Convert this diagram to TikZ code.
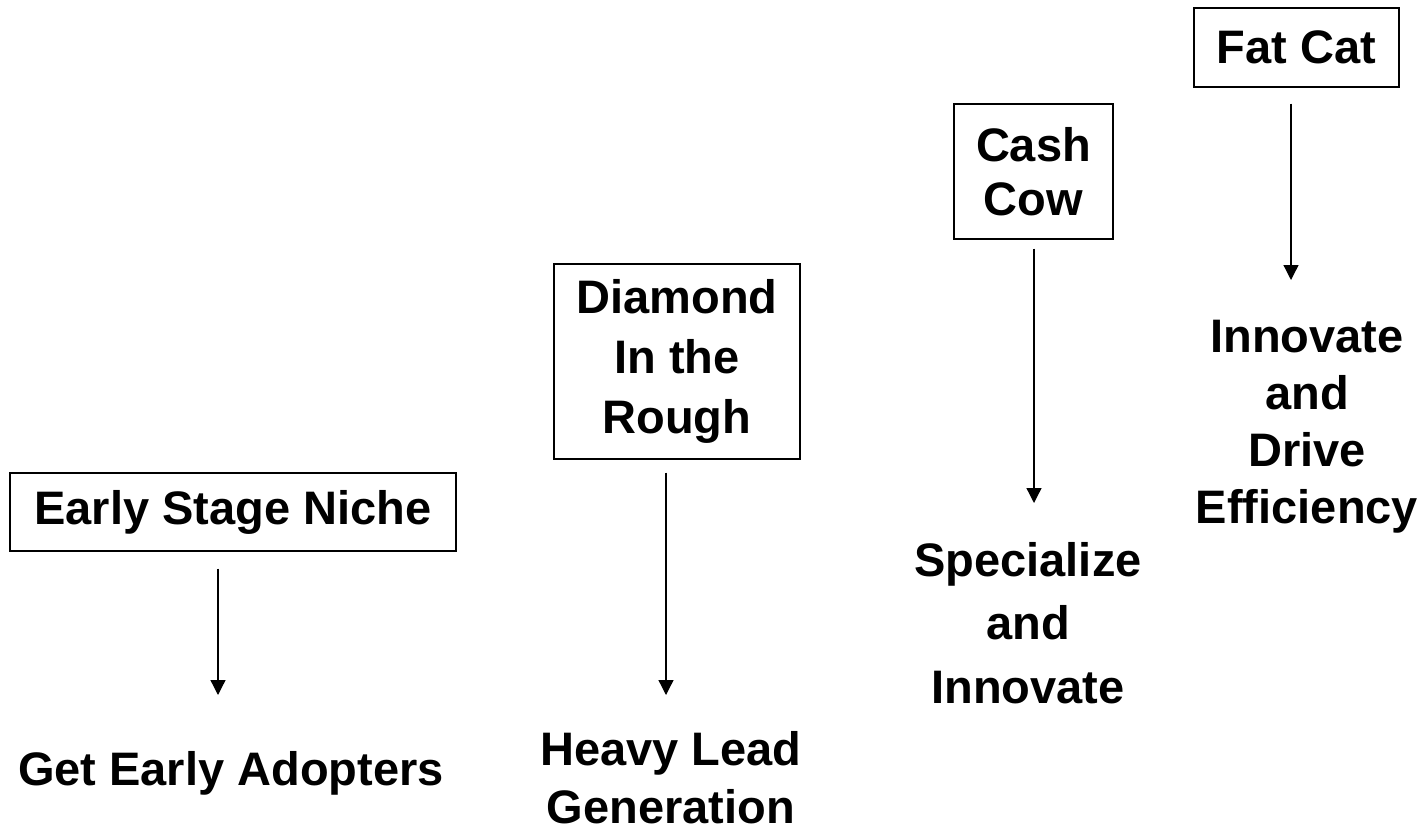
\documentclass[tikz,border=0pt]{standalone}
\usepackage{fontspec}
\setmainfont{Liberation Sans}
\usetikzlibrary{arrows.meta}
\begin{document}
\begin{tikzpicture}[x=1pt,y=-1pt,
  box/.style={draw, line width=1.4pt, inner sep=0pt, align=center, font=\bfseries\fontsize{47}{60}\selectfont},
  lbl/.style={inner sep=0pt, anchor=north, align=center, font=\bfseries\fontsize{47}{58}\selectfont},
  arr/.style={line width=1.3pt, -{Triangle[width=15pt,length=15pt]}}]
\useasboundingbox (0,0) rectangle (1425,830);
% boxes
\node[box, minimum width=446pt, minimum height=78pt] (b1) at (233,512) {Early Stage Niche};
\node[box, minimum width=246pt, minimum height=195pt] (b2) at (677,361.5) {Diamond\\In the\\Rough};
\node[box, minimum width=159pt, minimum height=135pt, font=\bfseries\fontsize{47}{54}\selectfont] (b3) at (1033.5,171.5) {Cash\\Cow};
\node[box, minimum width=205pt, minimum height=79pt] (b4) at (1296.5,47.5) {Fat Cat};
% outcome labels
\node[lbl] (o1) at (231,751) {Get Early Adopters};
\node[lbl] (o2) at (671,731) {Heavy Lead\\Generation};
\node[lbl, font=\bfseries\fontsize{47}{63.5}\selectfont] (o3) at (1028,542) {Specialize\\and\\Innovate};
\node[lbl, font=\bfseries\fontsize{47}{57}\selectfont] (o4) at (1307,320) {Innovate\\and\\Drive\\Efficiency};
% arrows
\draw[arr] ([xshift=-15pt,yshift=-17pt]b1.south) -- ([xshift=-13pt,yshift=56pt]o1.north);
\draw[arr] ([xshift=-11pt,yshift=-13pt]b2.south) -- ([xshift=-5pt,yshift=36pt]o2.north);
\draw[arr] ([xshift=0.5pt,yshift=-9pt]b3.south) -- ([xshift=6pt,yshift=39pt]o3.north);
\draw[arr] ([xshift=-5.5pt,yshift=-16pt]b4.south) -- ([xshift=-16pt,yshift=40pt]o4.north);
\end{tikzpicture}
\end{document}
